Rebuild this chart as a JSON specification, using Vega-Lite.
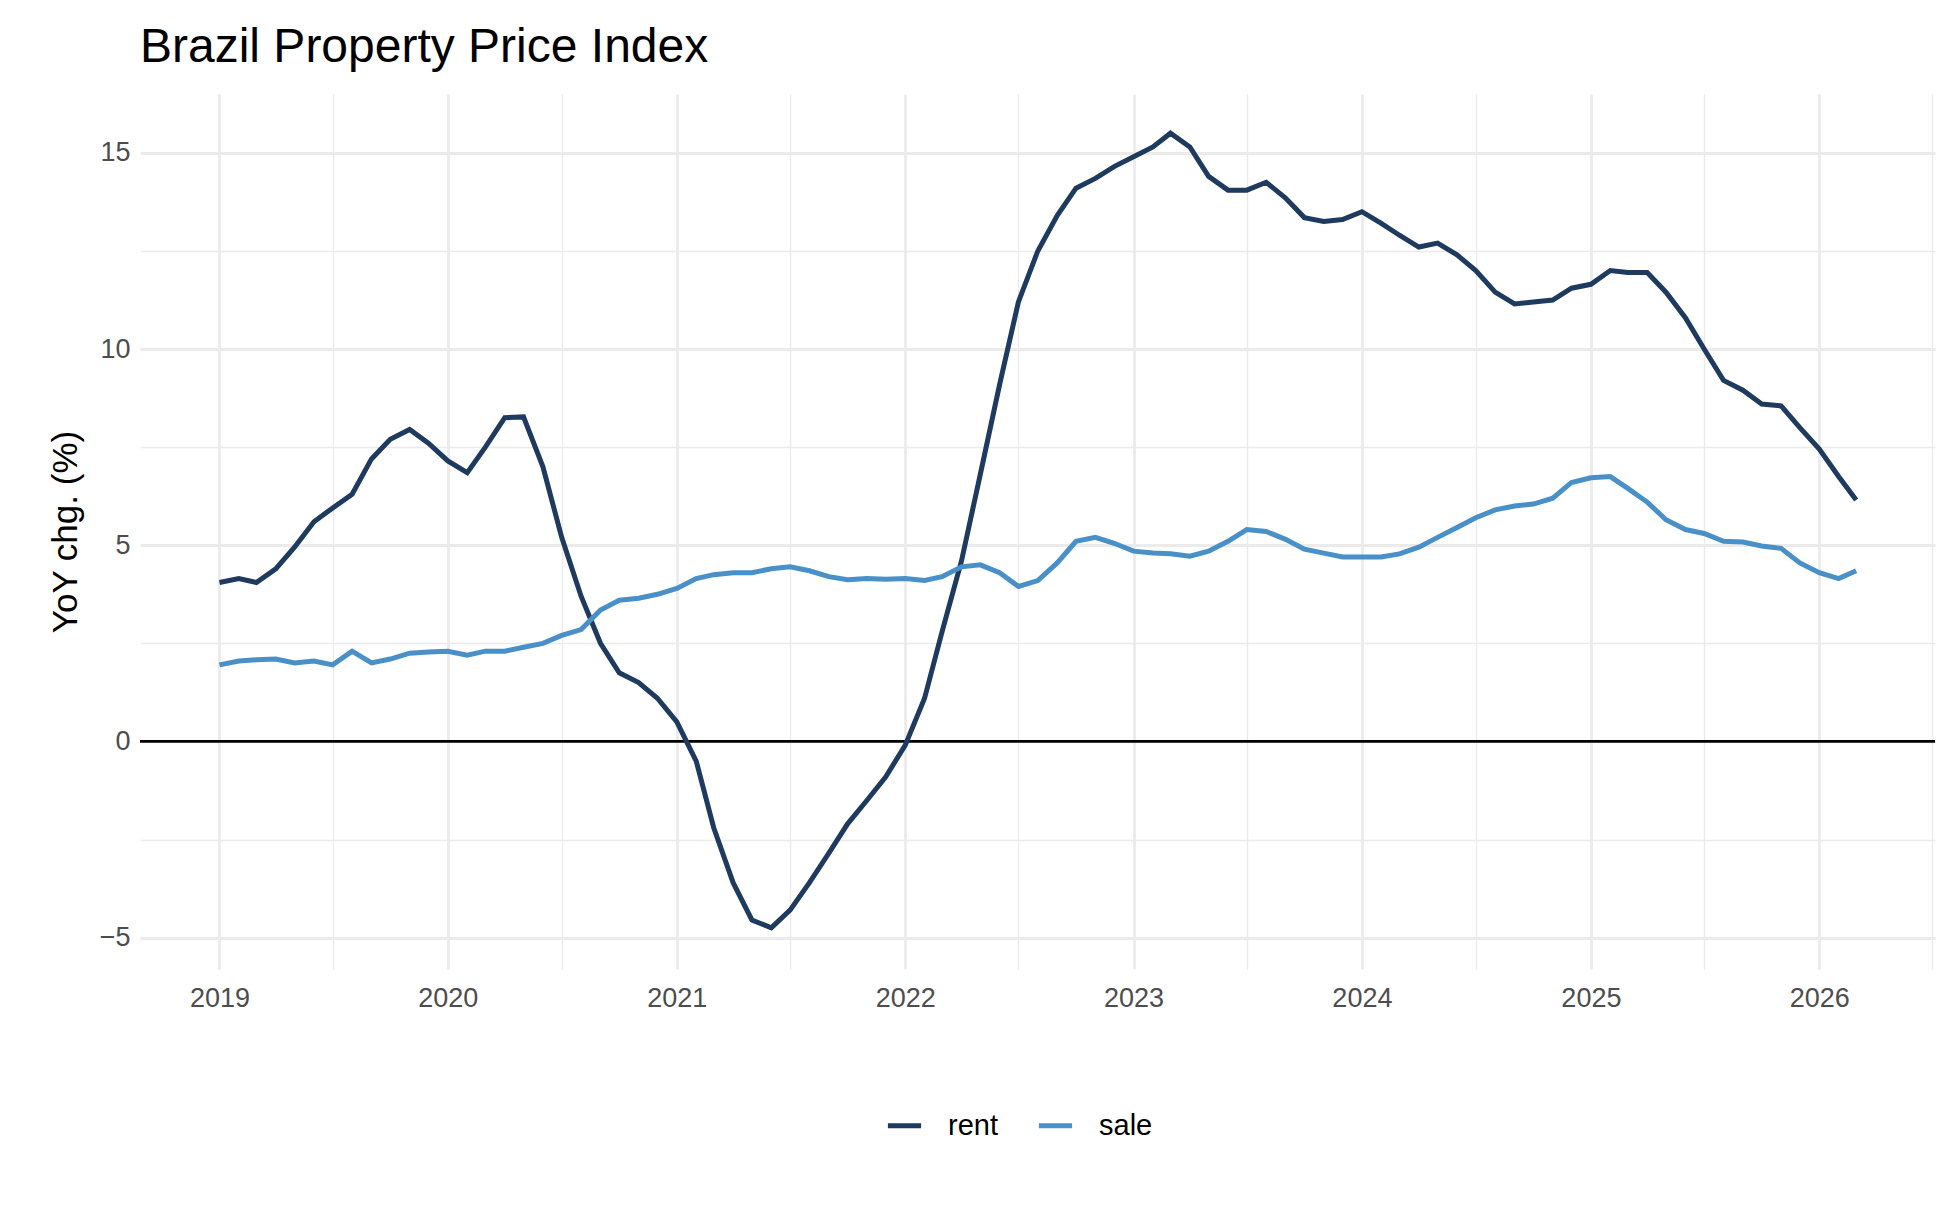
{
  "$schema": "https://vega.github.io/schema/vega-lite/v6.json",
  "width": 1795,
  "height": 875,
  "autosize": {"type": "none"},
  "padding": {"left": 140, "top": 94, "right": 15, "bottom": 236},
  "background": "white",
  "title": {"text": "Brazil Property Price Index", "anchor": "start", "frame": "group", "font": "Liberation Sans", "fontSize": 48, "fontWeight": "normal", "color": "black", "offset": 22},
  "config": {"view": {"stroke": null}, "font": "Liberation Sans"},
  "datasets": {
    "rent": [4.05,4.15,4.05,4.4,4.95,5.6,5.95,6.3,7.2,7.7,7.95,7.6,
             7.15,6.85,7.5,8.25,8.27,7.0,5.2,3.7,2.5,1.75,1.5,1.1,
             0.5,-0.5,-2.2,-3.6,-4.55,-4.75,-4.3,-3.6,-2.85,-2.1,-1.5,-0.9,
             -0.1,1.1,2.8,4.6,6.8,9.1,11.2,12.5,13.4,14.1,14.35,14.65,
             14.9,15.15,15.5,15.15,14.4,14.05,14.05,14.25,13.85,13.35,13.25,13.3,
             13.5,13.2,12.9,12.6,12.7,12.4,12.0,11.45,11.15,11.2,11.25,11.55,
             11.65,12.0,11.95,11.95,11.45,10.8,10.0,9.2,8.95,8.6,8.55,8.0,
             7.45,6.75,6.15],
    "sale": [1.95,2.05,2.08,2.1,2.0,2.05,1.95,2.3,2.0,2.1,2.25,2.28,
             2.3,2.2,2.3,2.3,2.4,2.5,2.7,2.85,3.35,3.6,3.65,3.75,
             3.9,4.15,4.25,4.3,4.3,4.4,4.45,4.35,4.2,4.12,4.15,4.13,
             4.15,4.1,4.2,4.45,4.5,4.3,3.95,4.1,4.55,5.1,5.2,5.05,
             4.85,4.8,4.78,4.72,4.85,5.1,5.4,5.35,5.15,4.9,4.8,4.7,
             4.7,4.7,4.78,4.95,5.2,5.45,5.7,5.9,6.0,6.05,6.2,6.6,
             6.72,6.75,6.45,6.1,5.65,5.4,5.3,5.1,5.08,4.98,4.92,4.55,
             4.3,4.15,4.35]
  },
  "layer": [
    {
      "data": {"values": [{"y": 0}]},
      "mark": {"type": "rule", "color": "black", "strokeWidth": 2.8},
      "encoding": {"y": {"field": "y", "type": "quantitative", "scale": {"domain": [-5.8, 16.5], "nice": false}}}
    },
    {
      "data": {"name": "rent"},
      "transform": [
        {"window": [{"op": "row_number", "as": "i"}]},
        {"calculate": "'rent'", "as": "series"},
        {"calculate": "datetime(2019, datum.i - 1, 1)", "as": "date"}
      ],
      "mark": {"type": "line", "strokeWidth": 5, "clip": true},
      "encoding": {
        "x": {"field": "date", "type": "temporal"},
        "y": {"field": "data", "type": "quantitative"},
        "color": {"field": "series", "type": "nominal"}
      }
    },
    {
      "data": {"name": "sale"},
      "transform": [
        {"window": [{"op": "row_number", "as": "i"}]},
        {"calculate": "'sale'", "as": "series"},
        {"calculate": "datetime(2019, datum.i - 1, 1)", "as": "date"}
      ],
      "mark": {"type": "line", "strokeWidth": 5, "clip": true},
      "encoding": {
        "x": {"field": "date", "type": "temporal"},
        "y": {"field": "data", "type": "quantitative"},
        "color": {"field": "series", "type": "nominal"}
      }
    }
  ],
  "encoding": {
    "x": {
      "type": "temporal",
      "scale": {"domain": [{"year": 2018, "month": 8, "date": 27}, {"year": 2026, "month": 7, "date": 5}]},
      "title": null,
      "axis": {
        "values": [{"year":2019,"month":1,"date":1},{"year":2019,"month":7,"date":1},{"year":2020,"month":1,"date":1},{"year":2020,"month":7,"date":1},{"year":2021,"month":1,"date":1},{"year":2021,"month":7,"date":1},{"year":2022,"month":1,"date":1},{"year":2022,"month":7,"date":1},{"year":2023,"month":1,"date":1},{"year":2023,"month":7,"date":1},{"year":2024,"month":1,"date":1},{"year":2024,"month":7,"date":1},{"year":2025,"month":1,"date":1},{"year":2025,"month":7,"date":1},{"year":2026,"month":1,"date":1},{"year":2026,"month":7,"date":1}],
        "labelExpr": "month(datum.value) == 0 ? timeFormat(datum.value, '%Y') : ''",
        "domain": false, "ticks": false, "labelFontSize": 27, "labelColor": "#4d4d4d", "labelPadding": 16,
        "gridColor": "#ebebeb",
        "gridWidth": {"condition": {"test": "month(datum.value) == 0", "value": 2.8}, "value": 1.4}
      }
    },
    "y": {
      "type": "quantitative",
      "title": "YoY chg. (%)",
      "axis": {
        "values": [-5, -2.5, 0, 2.5, 5, 7.5, 10, 12.5, 15],
        "labelExpr": "datum.value % 5 == 0 ? format(datum.value, 'd') : ''",
        "domain": false, "ticks": false, "labelFontSize": 27, "labelColor": "#4d4d4d", "labelPadding": 10,
        "titleFontSize": 35, "titleFontWeight": "normal", "titleColor": "black", "titlePadding": 16,
        "gridColor": "#ebebeb",
        "gridWidth": {"condition": {"test": "datum.value % 5 == 0", "value": 2.8}, "value": 1.4}
      }
    },
    "color": {
      "type": "nominal",
      "scale": {"domain": ["rent", "sale"], "range": ["#1f3a5f", "#4a90c8"]},
      "legend": {"orient": "none", "legendX": 745, "legendY": 1012, "direction": "horizontal", "title": null, "symbolType": "stroke", "symbolStrokeWidth": 5, "symbolSize": 1100, "labelFontSize": 29, "labelColor": "black", "labelOffset": 24, "columnPadding": 30}
    }
  }
}
